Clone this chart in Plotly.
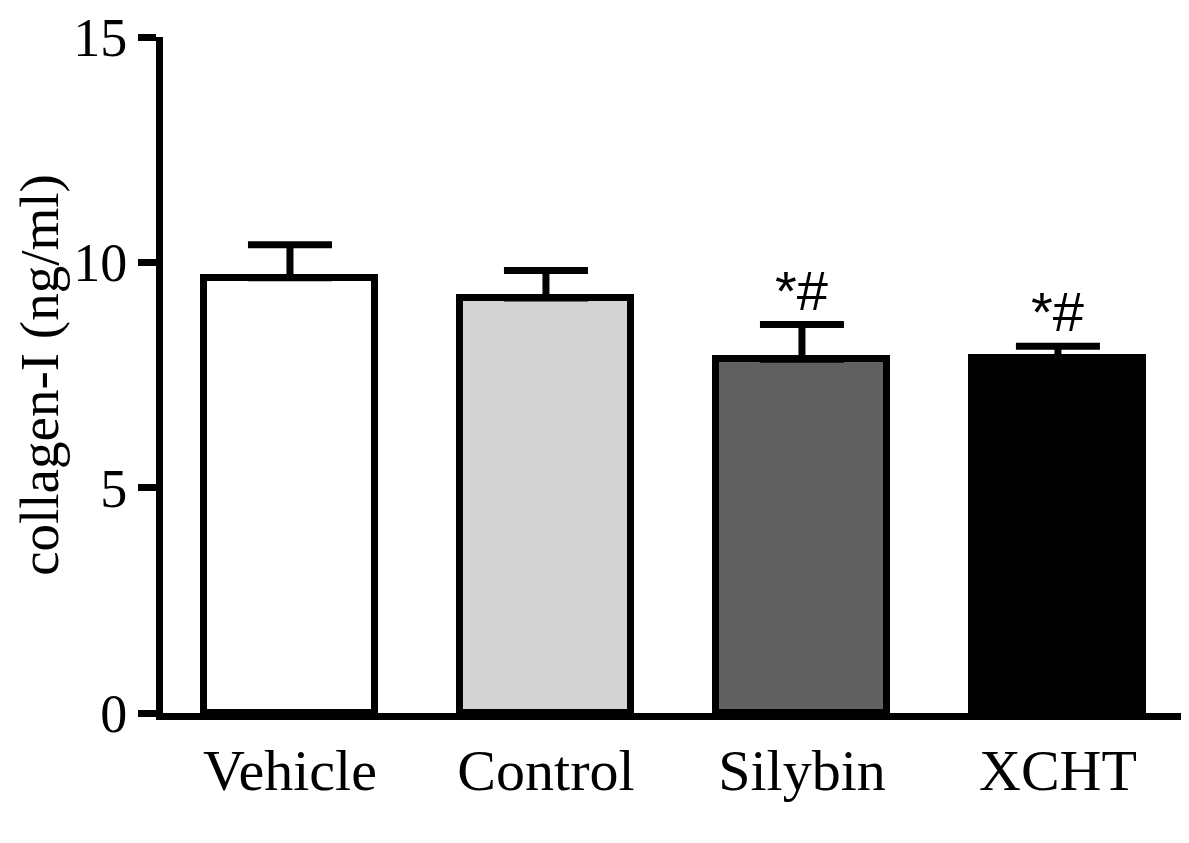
import plotly.graph_objects as go

# data
grupos = ["Vehicle", "Control", "Silybin", "XCHT"]
medias = [9.66, 9.21, 7.85, 7.87]
errores = [0.73, 0.61, 0.77, 0.27]
colores = ["#ffffff", "#d3d3d3", "#606060", "#000000"]
marcas = ["", "", "*#", "*#"]

fig = go.Figure()
fig.add_trace(go.Bar(
    x=list(range(len(grupos))),
    y=medias,
    width=0.668,
    marker=dict(color=colores, line=dict(color="black", width=7)),
    error_y=dict(type="data", symmetric=False, array=errores,
                 arrayminus=[0] * len(errores),
                 color="black", thickness=7, width=42),
    showlegend=False,
    hoverinfo="skip",
))

for i, (m, e, txt) in enumerate(zip(medias, errores, marcas)):
    if txt:
        fig.add_annotation(x=i, y=m + e, text=txt, showarrow=False,
                           yanchor="bottom", yshift=1,
                           font=dict(family="Liberation Sans", size=56, color="black"))

# y title as a rotated annotation so it sits where the original has it
fig.add_annotation(text="collagen-I (ng/ml)", xref="paper", yref="paper",
                   x=-0.121, y=0.5, xanchor="center", yanchor="middle",
                   textangle=-90, showarrow=False, borderpad=0,
                   font=dict(family="Liberation Serif", size=55, color="black"))

# page body has 8px margin, so figure is a bit smaller than the window
fig.update_layout(
    width=1181, height=835,
    margin=dict(l=155, r=0, t=25, b=130),
    plot_bgcolor="white", paper_bgcolor="white",
    font=dict(family="Liberation Serif", color="black"),
    bargap=0,
)
fig.update_xaxes(
    range=[-0.496, 3.512],
    tickvals=list(range(len(grupos))), ticktext=grupos,
    tickfont=dict(family="Liberation Serif", size=58),
    showline=True, linecolor="black", linewidth=7,
    ticks="", showgrid=False, zeroline=False,
    ticklabelstandoff=0,
)
fig.update_yaxes(
    range=[0, 15], tickvals=[0, 5, 10, 15],
    tickfont=dict(family="Liberation Serif", size=54),
    ticklabeloverflow="allow",
    showline=True, linecolor="black", linewidth=7,
    ticks="outside", ticklen=18, tickwidth=7, tickcolor="black",
    showgrid=False, zeroline=False,
)

fig.write_html("out.html")
